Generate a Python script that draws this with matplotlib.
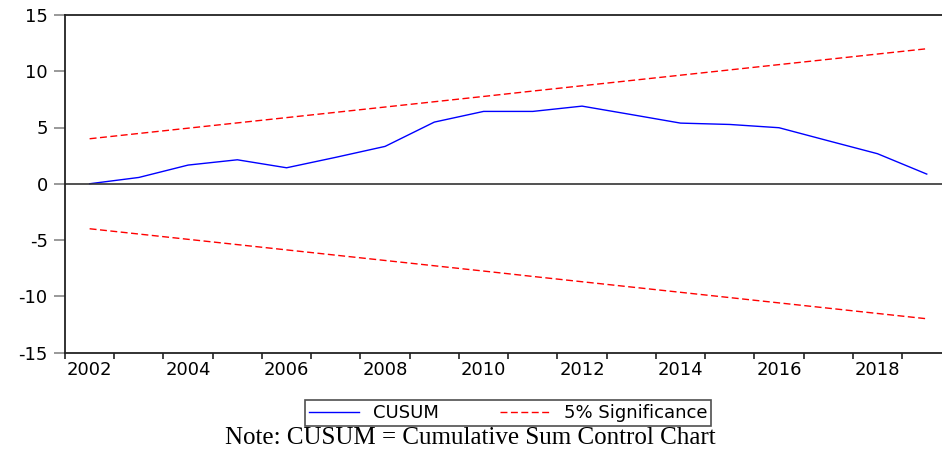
import matplotlib
matplotlib.use("Agg")
import matplotlib.pyplot as plt
from matplotlib.ticker import FixedLocator, NullFormatter, FixedFormatter

years = [2002, 2003, 2004, 2005, 2006, 2007, 2008, 2009, 2010, 2011,
         2012, 2013, 2014, 2015, 2016, 2017, 2018, 2019]
cusum = [0.0, 0.56, 1.66, 2.13, 1.42, 2.35, 3.32, 5.48, 6.43, 6.43,
         6.9, 6.15, 5.39, 5.27, 4.98, 3.82, 2.67, 0.86]
upper = [4.0, 4.47, 4.94, 5.41, 5.88, 6.35, 6.82, 7.29, 7.76, 8.24,
         8.71, 9.18, 9.65, 10.12, 10.59, 11.06, 11.53, 12.0]
lower = [-v for v in upper]
yticks = [-15, -10, -5, 0, 5, 10, 15]
xlabel_years = [2002, 2004, 2006, 2008, 2010, 2012, 2014, 2016, 2018]
note = "Note: CUSUM = Cumulative Sum Control Chart"

plt.rcParams['font.family'] = ['DejaVu Sans']

fig = plt.figure(figsize=(9.42, 4.55), dpi=100)
ax = fig.add_axes([65/942, 1 - 352.5/455, 1 - 65/942, (352.5 - 15)/455])

l1, = ax.plot(years, cusum, color='#0000ff', lw=1.0, label='CUSUM')
l2, = ax.plot(years, upper, color='#ff0000', lw=1.0, ls=(0, (5, 2.5)), label='5% Significance')
ax.plot(years, lower, color='#ff0000', lw=1.0, ls=(0, (5, 2.5)))
ax.axhline(0, color='#333333', lw=1.2)

ax.set_ylim(-15, 15)
ax.set_xlim(2001.5, 2019.31)
ax.set_yticks(yticks)
ax.set_yticklabels([str(v) for v in yticks], fontsize=13)
ax.tick_params(axis='y', direction='out', length=8, width=1.2, color='#888888', pad=4.5)

# tick marks at year boundaries, labels centered on years
ax.xaxis.set_major_locator(FixedLocator([y - 0.5 for y in years]))
ax.xaxis.set_major_formatter(NullFormatter())
ax.xaxis.set_minor_locator(FixedLocator(xlabel_years))
ax.xaxis.set_minor_formatter(FixedFormatter([str(y) for y in xlabel_years]))
ax.tick_params(axis='x', which='major', direction='out', length=4, width=1.2, color='#222222')
ax.tick_params(axis='x', which='minor', length=0, pad=6, labelsize=13)

for s in ['left', 'bottom', 'top']:
    ax.spines[s].set_color('#222222')
    ax.spines[s].set_linewidth(1.3)
ax.spines['right'].set_visible(False)

leg = fig.legend([l1, l2], ['CUSUM', '5% Significance'], loc='center',
                 bbox_to_anchor=(508/942, 1 - 413/455), ncol=2, fontsize=13,
                 frameon=True, fancybox=False, edgecolor='#222222',
                 handlelength=2.8, handletextpad=0.75, columnspacing=3.4,
                 borderpad=0.2, borderaxespad=0)
leg.get_frame().set_linewidth(1.2)

fig.text(470/942, 1 - 438/455, note, ha='center', va='center',
         family=['Liberation Serif', 'DejaVu Serif'], fontsize=18)

fig.savefig('out.png', dpi=100)
